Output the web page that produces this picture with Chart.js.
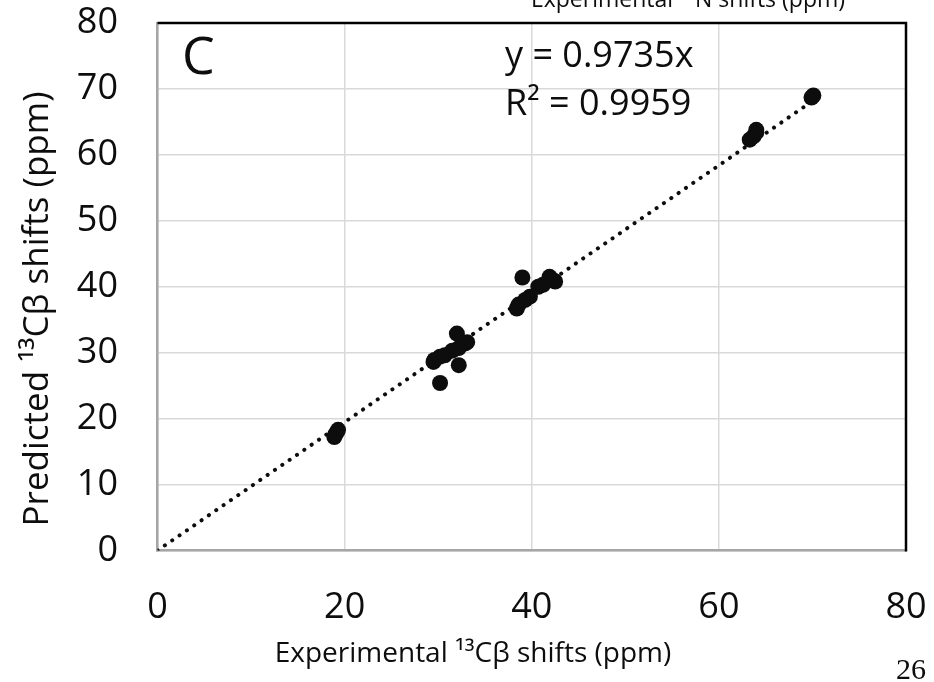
<!DOCTYPE html>
<html>
<head>
<meta charset="utf-8">
<script src="https://cdn.jsdelivr.net/npm/chart.js@4/dist/chart.umd.min.js"></script>
<style>
  html, body { margin: 0; padding: 0; background: #fff; }
  #wrap { width: 934px; height: 682px; position: relative; }
</style>
</head>
<body>
<div id="wrap"><canvas id="scatter" width="934" height="682"></canvas></div>
<script>
// experimental vs predicted 13C-beta shifts (ppm)
let expShifts  = [18.9, 19.0, 19.2, 19.3,
                  29.5, 29.6, 30.2, 30.7, 30.2, 31.5, 32.0, 32.2, 32.9, 33.1, 32.2,
                  38.4, 38.6, 39.0, 39.3, 39.8, 40.7, 41.2, 41.9, 42.3, 42.5,
                  63.3, 63.7, 64.0, 64.0,
                  69.9, 70.1];
let predShifts = [17.2, 17.6, 18.0, 18.3,
                  28.6, 28.9, 29.4, 29.6, 25.4, 30.3, 32.9, 30.7, 31.4, 31.6, 28.1,
                  36.7, 37.3, 41.4, 38.0, 38.5, 40.0, 40.3, 41.5, 41.0, 40.8,
                  62.3, 62.8, 63.4, 63.8,
                  68.7, 69.0];
// trendline y = 0.9735x, end points
let trendX = [0, 70.1];
let trendY = [0, 68.24];
let xTicks = [0, 20, 40, 60, 80];
let yTicks = [0, 10, 20, 30, 40, 50, 60, 70, 80];
let xTitle = "Experimental \u00B9\u00B3C\u03B2 shifts (ppm)";
let yTitle = "Predicted \u00B9\u00B3C\u03B2 shifts (ppm)";
let slopeText = "y = 0.9735x";
let r2Text = "R\u00B2 = 0.9959";
let panelLabel = "C";
let cutTitle = "Experimental \u00B9\u2075N shifts (ppm)";
let pageNum = "26";

let sans = "'Open Sans', sans-serif";

function toPoints(xs, ys) {
  let pts = [];
  for (let i = 0; i < xs.length; i++) pts.push({ x: xs[i], y: ys[i] });
  return pts;
}

let extras = {
  id: "extras",
  afterDraw(chart) {
    let ctx = chart.ctx;
    let a = chart.chartArea;
    ctx.save();
    // top and right frame lines
    ctx.strokeStyle = "#000";
    ctx.lineWidth = 2.5;
    ctx.beginPath();
    ctx.moveTo(a.left, a.top);
    ctx.lineTo(a.right, a.top);
    ctx.lineTo(a.right, a.bottom + 1);
    ctx.stroke();

    ctx.fillStyle = "#0d0d0d";
    ctx.textBaseline = "alphabetic";
    ctx.textAlign = "left";
    ctx.font = "52px " + sans;
    ctx.fillText(panelLabel, 182, 74);
    ctx.font = "36px " + sans;
    ctx.fillText(slopeText, 505, 67);
    ctx.fillText(r2Text, 505, 115);

    // axis titles, both sit off centre like the original
    ctx.textAlign = "center";
    ctx.textBaseline = "middle";
    ctx.font = "28px " + sans;
    ctx.fillText(xTitle, 473, 654);
    ctx.save();
    ctx.translate(38, 309);
    ctx.rotate(-Math.PI / 2);
    ctx.font = "35px " + sans;
    ctx.fillText(yTitle, 0, 0);
    ctx.restore();

    // title of the panel above, cut by the page edge
    ctx.textBaseline = "alphabetic";
    ctx.font = "23px " + sans;
    ctx.fillText(cutTitle, 688, 7);

    ctx.textAlign = "right";
    ctx.font = "30px 'Liberation Serif', serif";
    ctx.fillText(pageNum, 926, 679);
    ctx.restore();
  }
};

new Chart(document.getElementById("scatter"), {
  type: "scatter",
  data: {
    datasets: [
      {
        label: "shifts",
        data: toPoints(expShifts, predShifts),
        pointRadius: 8,
        pointHoverRadius: 8,
        backgroundColor: "#0d0d0d",
        borderWidth: 0,
        order: 1
      },
      {
        label: "trend",
        type: "line",
        data: toPoints(trendX, trendY),
        showLine: true,
        pointRadius: 0,
        borderColor: "#0d0d0d",
        borderWidth: 4,
        borderDash: [0.1, 8.8],
        borderCapStyle: "round",
        fill: false,
        order: 2
      }
    ]
  },
  options: {
    responsive: false,
    animation: false,
    devicePixelRatio: 1,
    layout: { padding: { top: 23, right: 28, left: 0, bottom: 0 } },
    plugins: { legend: { display: false }, tooltip: { enabled: false } },
    scales: {
      x: {
        type: "linear",
        min: 0,
        max: 80,
        afterBuildTicks: s => { s.ticks = xTicks.map(v => ({ value: v })); },
        afterFit: s => { s.height = 131.5; s.paddingLeft = 0; s.paddingRight = 0; },
        grid: { color: "#d9d9d9", lineWidth: 1.5, drawTicks: false },
        border: { color: "#a6a6a6", width: 2.5 },
        ticks: { padding: 36, color: "#0d0d0d", font: { family: sans, size: 36 }, maxRotation: 0 }
      },
      y: {
        type: "linear",
        min: 0,
        max: 80,
        afterBuildTicks: s => { s.ticks = yTicks.map(v => ({ value: v })); },
        afterFit: s => { s.width = 157.5; s.paddingTop = 0; s.paddingBottom = 0; },
        grid: { color: "#d9d9d9", lineWidth: 1.5, drawTicks: false },
        border: { color: "#a6a6a6", width: 2.5 },
        ticks: { padding: 39.5, color: "#0d0d0d", font: { family: sans, size: 36 } }
      }
    }
  },
  plugins: [extras]
});
</script>
</body>
</html>
